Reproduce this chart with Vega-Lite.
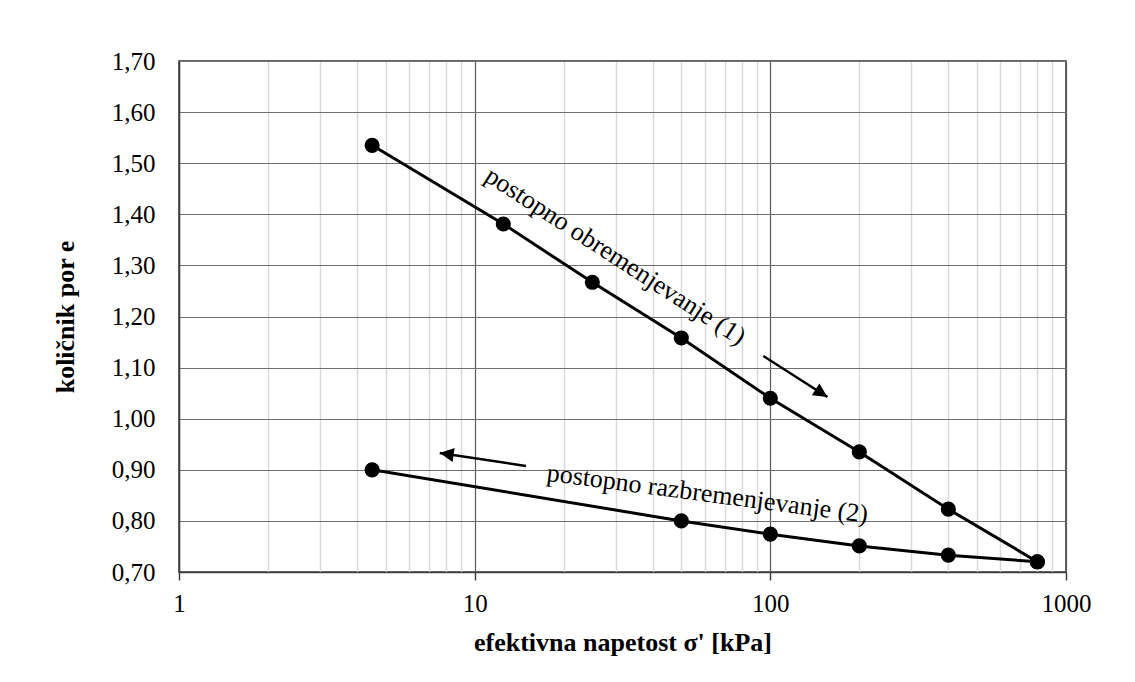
{
  "$schema": "https://vega.github.io/schema/vega-lite/v6.json",
  "width": 887,
  "height": 511,
  "autosize": {"type": "none"},
  "padding": {"left": 179, "top": 61, "right": 69, "bottom": 110},
  "background": "white",
  "config": {
    "font": "Liberation Serif",
    "view": {"stroke": "#333333", "strokeWidth": 1.5},
    "axis": {
      "labelFont": "Liberation Serif",
      "titleFont": "Liberation Serif",
      "labelColor": "#000000",
      "titleColor": "#000000",
      "labelFontSize": 25,
      "titleFontSize": 26,
      "titleFontWeight": "bold",
      "domainColor": "#404040",
      "domainWidth": 1.5
    }
  },
  "datasets": {
    "curve": [
      {"series": "obremenjevanje", "sigma": 4.5, "e": 1.535},
      {"series": "obremenjevanje", "sigma": 12.5, "e": 1.381},
      {"series": "obremenjevanje", "sigma": 25, "e": 1.267},
      {"series": "obremenjevanje", "sigma": 50, "e": 1.158},
      {"series": "obremenjevanje", "sigma": 100, "e": 1.04},
      {"series": "obremenjevanje", "sigma": 200, "e": 0.935},
      {"series": "obremenjevanje", "sigma": 400, "e": 0.823},
      {"series": "obremenjevanje", "sigma": 800, "e": 0.72},
      {"series": "razbremenjevanje", "sigma": 800, "e": 0.72},
      {"series": "razbremenjevanje", "sigma": 400, "e": 0.733},
      {"series": "razbremenjevanje", "sigma": 200, "e": 0.751},
      {"series": "razbremenjevanje", "sigma": 100, "e": 0.774},
      {"series": "razbremenjevanje", "sigma": 50, "e": 0.8},
      {"series": "razbremenjevanje", "sigma": 4.5, "e": 0.9}
    ],
    "arrows": [
      {"arrow": "1", "part": "start", "sigma": 94.7, "e": 1.1227},
      {"arrow": "1", "part": "tip", "sigma": 156, "e": 1.0425},
      {"arrow": "2", "part": "start", "sigma": 14.9, "e": 0.9074},
      {"arrow": "2", "part": "tip", "sigma": 7.62, "e": 0.933}
    ],
    "labels": [
      {"id": "1", "sigma": 29.9, "e": 1.318, "text": "postopno obremenjevanje (1)"},
      {"id": "2", "sigma": 61.3, "e": 0.853, "text": "postopno razbremenjevanje (2)"}
    ]
  },
  "layer": [
    {
      "data": {"name": "curve"},
      "mark": {"type": "line", "color": "#000000", "strokeWidth": 3},
      "encoding": {
        "x": {
          "field": "sigma",
          "type": "quantitative",
          "scale": {"type": "log", "domain": [1, 1000], "nice": false},
          "axis": {
            "title": "efektivna napetost σ' [kPa]",
            "titleY": 78,
            "titleBaseline": "alphabetic",
            "values": [1, 2, 3, 4, 5, 6, 7, 8, 9, 10, 20, 30, 40, 50, 60, 70, 80, 90, 100, 200, 300, 400, 500, 600, 700, 800, 900, 1000],
            "labelExpr": "indexof([1, 10, 100, 1000], datum.value) >= 0 ? format(datum.value, 'd') : ''",
            "labelPadding": 11,
            "labelFlush": false,
            "labelOverlap": false,
            "tickSize": {"condition": {"test": "indexof([1, 10, 100, 1000], datum.value) >= 0", "value": 8}, "value": 0},
            "tickColor": "#404040",
            "tickWidth": 1.5,
            "grid": true,
            "gridColor": {"condition": {"test": "indexof([1, 10, 100, 1000], datum.value) >= 0", "value": "#595959"}, "value": "#d9d9d9"},
            "gridWidth": {"condition": {"test": "indexof([1, 10, 100, 1000], datum.value) >= 0", "value": 1.2}, "value": 1.5}
          }
        },
        "y": {
          "field": "e",
          "type": "quantitative",
          "scale": {"domain": [0.7, 1.7], "nice": false, "zero": false},
          "axis": {
            "title": "količnik por e",
            "titleX": -101,
            "values": [0.7, 0.8, 0.9, 1.0, 1.1, 1.2, 1.3, 1.4, 1.5, 1.6, 1.7],
            "labelExpr": "replace(format(datum.value, '.2f'), '.', ',')",
            "ticks": false,
            "labelPadding": 24,
            "grid": true,
            "gridColor": "#707070",
            "gridWidth": 1.2
          }
        },
        "detail": {"field": "series"}
      }
    },
    {
      "data": {"name": "curve"},
      "mark": {"type": "point", "shape": "circle", "filled": true, "color": "#000000", "size": 230, "opacity": 1},
      "encoding": {
        "x": {"field": "sigma", "type": "quantitative"},
        "y": {"field": "e", "type": "quantitative"}
      }
    },
    {
      "data": {"name": "arrows"},
      "mark": {"type": "line", "color": "#000000", "strokeWidth": 2.5},
      "encoding": {
        "x": {"field": "sigma", "type": "quantitative"},
        "y": {"field": "e", "type": "quantitative"},
        "detail": {"field": "arrow"}
      }
    },
    {
      "data": {"name": "arrows"},
      "transform": [{"filter": "datum.part == 'tip' && datum.arrow == '1'"}],
      "mark": {"type": "point", "shape": "M0,0 L1,2 L-1,2 Z", "filled": true, "color": "#000000", "size": 196, "angle": 122.6, "opacity": 1},
      "encoding": {
        "x": {"field": "sigma", "type": "quantitative"},
        "y": {"field": "e", "type": "quantitative"}
      }
    },
    {
      "data": {"name": "arrows"},
      "transform": [{"filter": "datum.part == 'tip' && datum.arrow == '2'"}],
      "mark": {"type": "point", "shape": "M0,0 L1,2 L-1,2 Z", "filled": true, "color": "#000000", "size": 196, "angle": 278.6, "opacity": 1},
      "encoding": {
        "x": {"field": "sigma", "type": "quantitative"},
        "y": {"field": "e", "type": "quantitative"}
      }
    },
    {
      "data": {"name": "labels"},
      "transform": [{"filter": "datum.id == '1'"}],
      "mark": {"type": "text", "font": "Liberation Serif", "fontSize": 26, "angle": 33, "align": "center", "baseline": "middle", "color": "#000000"},
      "encoding": {
        "x": {"field": "sigma", "type": "quantitative"},
        "y": {"field": "e", "type": "quantitative"},
        "text": {"field": "text"}
      }
    },
    {
      "data": {"name": "labels"},
      "transform": [{"filter": "datum.id == '2'"}],
      "mark": {"type": "text", "font": "Liberation Serif", "fontSize": 26, "angle": 7.5, "align": "center", "baseline": "middle", "color": "#000000"},
      "encoding": {
        "x": {"field": "sigma", "type": "quantitative"},
        "y": {"field": "e", "type": "quantitative"},
        "text": {"field": "text"}
      }
    }
  ]
}
